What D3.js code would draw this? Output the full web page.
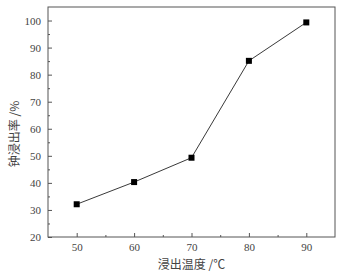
<!DOCTYPE html>
<html><head><meta charset="utf-8">
<script src="https://cdn.jsdelivr.net/npm/d3@7"></script>
<style>body{margin:0;background:#fff}svg{display:block}</style>
</head><body>
<script>
const temperatures = [50, 60, 70, 80, 90];
const leachRates = [32.1, 40.3, 49.3, 85.1, 99.3];
const xTicks = [50, 60, 70, 80, 90];
const yTicks = [20, 30, 40, 50, 60, 70, 80, 90, 100];
const xLabel = "浸出温度 /℃";
const yLabel = "钟浸出率 /%";

const W = 344, H = 276;
const m = {left: 48, right: 9, top: 7, bottom: 39};
const svg = d3.select("body").append("svg").attr("width", W).attr("height", H);
const x = d3.scaleLinear().domain([45, 95]).range([m.left, W - m.right]);
const y = d3.scaleLinear().domain([20, 105]).range([H - m.bottom, m.top]);
const axisColor = "#555";
const textColor = "#444";
const serif = "Liberation Serif, DejaVu Serif, serif";

svg.append("rect").attr("x", m.left).attr("y", m.top)
  .attr("width", W - m.left - m.right).attr("height", H - m.top - m.bottom)
  .attr("fill", "none").attr("stroke", axisColor).attr("stroke-width", 1);

const gx = svg.append("g").attr("transform", `translate(0,${H - m.bottom})`)
  .call(d3.axisBottom(x).tickValues(xTicks).tickSize(-4).tickPadding(6));
const gxm = svg.append("g").attr("transform", `translate(0,${H - m.bottom})`)
  .call(d3.axisBottom(x).tickValues(d3.range(55, 95, 10)).tickSize(-2).tickFormat(""));
const gy = svg.append("g").attr("transform", `translate(${m.left},0)`)
  .call(d3.axisLeft(y).tickValues(yTicks).tickSize(-4).tickPadding(7));
const gym = svg.append("g").attr("transform", `translate(${m.left},0)`)
  .call(d3.axisLeft(y).tickValues(d3.range(25, 105, 10)).tickSize(-2).tickFormat(""));
[gx, gxm, gy, gym].forEach(g => {
  g.attr("font-family", serif).attr("font-size", 11);
  g.select(".domain").remove();
  g.selectAll("line").attr("stroke", axisColor);
  g.selectAll("text").attr("fill", textColor);
});

const pts = temperatures.map((t, i) => [t, leachRates[i]]);
svg.append("path").datum(pts)
  .attr("d", d3.line().x(d => x(d[0])).y(d => y(d[1])))
  .attr("fill", "none").attr("stroke", "#222").attr("stroke-width", 0.9);
svg.selectAll("rect.pt").data(pts).join("rect").attr("class", "pt")
  .attr("x", d => x(d[0]) - 3).attr("y", d => y(d[1]) - 3)
  .attr("width", 6).attr("height", 6).attr("fill", "#000");

svg.append("text").attr("x", (m.left + W - m.right) / 2).attr("y", 269)
  .attr("text-anchor", "middle").attr("fill", textColor)
  .attr("font-family", "Noto Sans CJK SC, sans-serif").attr("font-size", 12).text(xLabel);
svg.append("text").attr("transform", `translate(19,${(m.top + H - m.bottom) / 2 + 12}) rotate(-90)`)
  .attr("text-anchor", "middle").attr("fill", textColor)
  .attr("font-family", "Noto Sans CJK SC, sans-serif").attr("font-size", 12).text(yLabel);
</script>
</body></html>
